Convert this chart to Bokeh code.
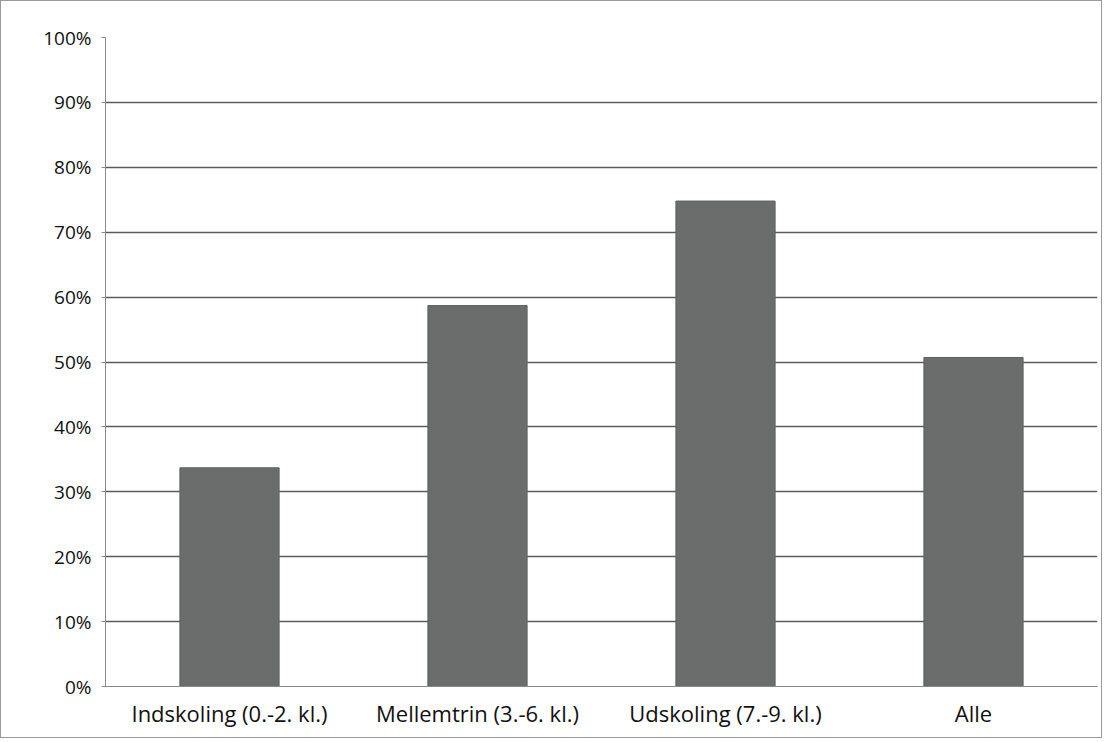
from bokeh.plotting import figure
from bokeh.models import NumeralTickFormatter, FixedTicker, Range1d
from bokeh.layouts import column
from bokeh.embed import file_html
from bokeh.resources import INLINE

categories = ["Indskoling (0.-2. kl.)", "Mellemtrin (3.-6. kl.)", "Udskoling (7.-9. kl.)", "Alle"]
shares = [0.337, 0.587, 0.748, 0.507]
y_ticks = [0.0, 0.1, 0.2, 0.3, 0.4, 0.5, 0.6, 0.7, 0.8, 0.9, 1.0]

p = figure(x_range=categories, y_range=Range1d(0, 1.0),
           width=1100, height=736, output_backend="svg", toolbar_location=None,
           min_border_left=104, min_border_right=4, min_border_top=36, min_border_bottom=51)
p.x_range.range_padding = 0

p.vbar(x=categories, top=shares, width=0.4, fill_color="#6b6d6d", line_color="#5e6060", line_width=1)

p.yaxis.ticker = FixedTicker(ticks=y_ticks)
p.yaxis.formatter = NumeralTickFormatter(format="0%")
p.yaxis.major_label_text_font = "Open Sans"
p.yaxis.major_label_text_font_size = "19px"
p.yaxis.major_label_text_color = "#111111"
p.yaxis.axis_line_color = "#8a8a8a"
p.yaxis.major_tick_line_color = "#8a8a8a"
p.yaxis.major_tick_in = 0
p.yaxis.major_tick_out = 4
p.yaxis.minor_tick_line_color = None
p.yaxis.major_label_standoff = 10

p.xaxis.major_label_text_font = "Open Sans"
p.xaxis.major_label_text_font_size = "22px"
p.xaxis.major_label_text_color = "#111111"
p.xaxis.axis_line_color = "#8a8a8a"
p.xaxis.major_tick_line_color = None
p.xaxis.major_label_standoff = 5

p.xgrid.grid_line_color = None
p.ygrid.grid_line_color = "#333333"
p.ygrid.grid_line_width = 1.4
p.ygrid.grid_line_alpha = 0.8

p.outline_line_color = None
p.background_fill_color = "white"
p.border_fill_color = "white"

layout = column(p, styles={"border": "1px solid #9a9a9a"})

open("out.html", "w").write(file_html(layout, INLINE))
